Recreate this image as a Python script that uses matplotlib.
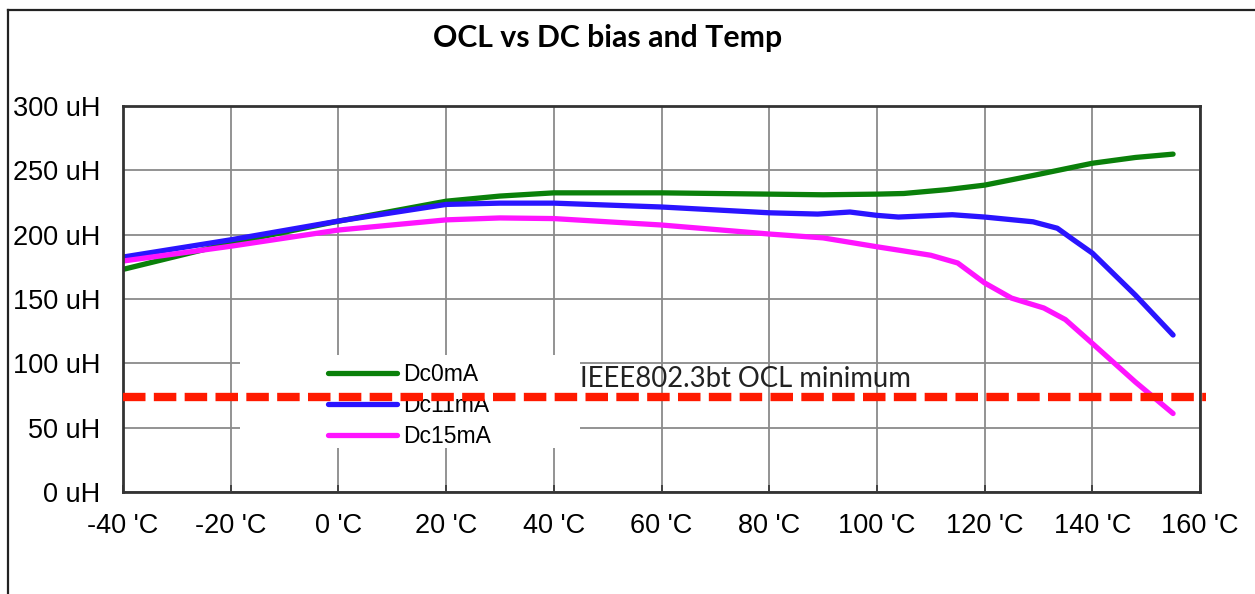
import matplotlib
matplotlib.use("Agg")
import matplotlib.pyplot as plt
from matplotlib.patches import Rectangle
from matplotlib.lines import Line2D

# ---- data ----
t_dc0 = [-40, -20, 0, 20, 30, 40, 60, 80, 90, 100, 105, 113, 120, 129, 140, 148, 155]
l_dc0 = [173, 193.5, 210.5, 226, 230, 232.5, 232.5, 231.5, 231, 231.5, 232, 235, 238.5, 246, 255.5, 260, 262.6]

t_dc11 = [-40, -20, 0, 20, 30, 40, 60, 80, 89, 95, 100, 104, 114, 120, 129, 133.5, 136.5, 140, 148, 155]
l_dc11 = [182.6, 196, 210.6, 223.5, 224.5, 224.5, 221.5, 217, 216, 217.6, 215, 213.7, 215.5, 213.7, 210, 205, 196, 185.7, 153, 122]

t_dc15 = [-40, -20, 0, 20, 30, 40, 60, 80, 90, 100, 104, 110, 115, 120, 125, 131, 135, 140, 148, 155]
l_dc15 = [179.5, 191, 203.6, 211.5, 213, 212.5, 207.5, 200.5, 197.5, 190.6, 188, 184, 178, 162.5, 150.7, 143, 134, 115.5, 85.5, 61]

series_names = ["Dc0mA", "Dc11mA", "Dc15mA"]
series_colors = ["#0a800a", "#2a14ff", "#ff14ff"]

ocl_min = 74
ocl_label = "IEEE802.3bt OCL minimum"

x_ticks = [-40, -20, 0, 20, 40, 60, 80, 100, 120, 140, 160]
x_ticklabels = [f"{v} 'C" for v in x_ticks]
y_ticks = [0, 50, 100, 150, 200, 250, 300]
y_ticklabels = [f"{v} uH" for v in y_ticks]

title = "OCL vs DC bias and Temp"

# ---- figure ----
W, H = 1255, 594
fig = plt.figure(figsize=(W / 100, H / 100), dpi=100)
ax = fig.add_axes([123 / W, 1 - 492 / H, (1200 - 123) / W, (492 - 106) / H])

ax.set_xlim(-40, 160)
ax.set_ylim(0, 300)
ax.set_xticks(x_ticks)
ax.set_xticklabels(x_ticklabels, fontfamily="Liberation Sans", fontsize=19.5)
ax.set_yticks(y_ticks)
ax.set_yticklabels(y_ticklabels, fontfamily="Liberation Sans", fontsize=19.5)
ax.tick_params(axis="x", direction="in", length=5, width=1.2, color="#333333", pad=15)
ax.tick_params(axis="y", length=0, pad=16.5)
ax.grid(True, color="#8a8a8a", linewidth=1.3, zorder=0)
ax.set_axisbelow(True)
for s in ax.spines.values():
    s.set_color("#333333")
    s.set_linewidth(2)

# white box behind legend / label
ax.add_patch(Rectangle((-18.3, 34.2), 44.9 + 18.3, 106.4 - 34.2, facecolor="white",
                       edgecolor="none", zorder=1))

ts = [t_dc0, t_dc11, t_dc15]
ls = [l_dc0, l_dc11, l_dc15]
handles = []
for t, l, name, c in zip(ts, ls, series_names, series_colors):
    h, = ax.plot(t, l, color=c, lw=3.8, solid_capstyle="round", solid_joinstyle="round",
                 label=name, zorder=2)
    handles.append(h)

leg = ax.legend(handles=handles, loc="upper left", bbox_to_anchor=(-1.9, 100.5),
                bbox_transform=ax.transData, frameon=False,
                prop={"family": "Liberation Sans", "size": 16.5},
                handlelength=3.0, handletextpad=0.25, labelspacing=0.36, borderpad=0, borderaxespad=0)
leg.set_zorder(2.5)

ax.plot([-40, 161.2], [ocl_min, ocl_min], color="#ff1a00", lw=6, linestyle=(0, (2.7, 1.0)),
        dash_capstyle="butt", clip_on=False, zorder=3)

ax.text(44.9, 87.5, ocl_label, fontfamily="Lato", fontsize=19.8, color="#222222",
        ha="left", va="center", zorder=4)

fig.text(608 / W, 1 - 38 / H, title, fontfamily="Lato", fontweight="bold", fontsize=21.8,
         ha="center", va="center")

# figure border (top and left)
fig.add_artist(Line2D([8 / W, 8 / W], [0, 1 - 10 / H], color="#222222", lw=1.6,
                      transform=fig.transFigure))
fig.add_artist(Line2D([8 / W, 1], [1 - 10 / H, 1 - 10 / H], color="#222222", lw=1.6,
                      transform=fig.transFigure))

fig.savefig("out.png", dpi=100)
